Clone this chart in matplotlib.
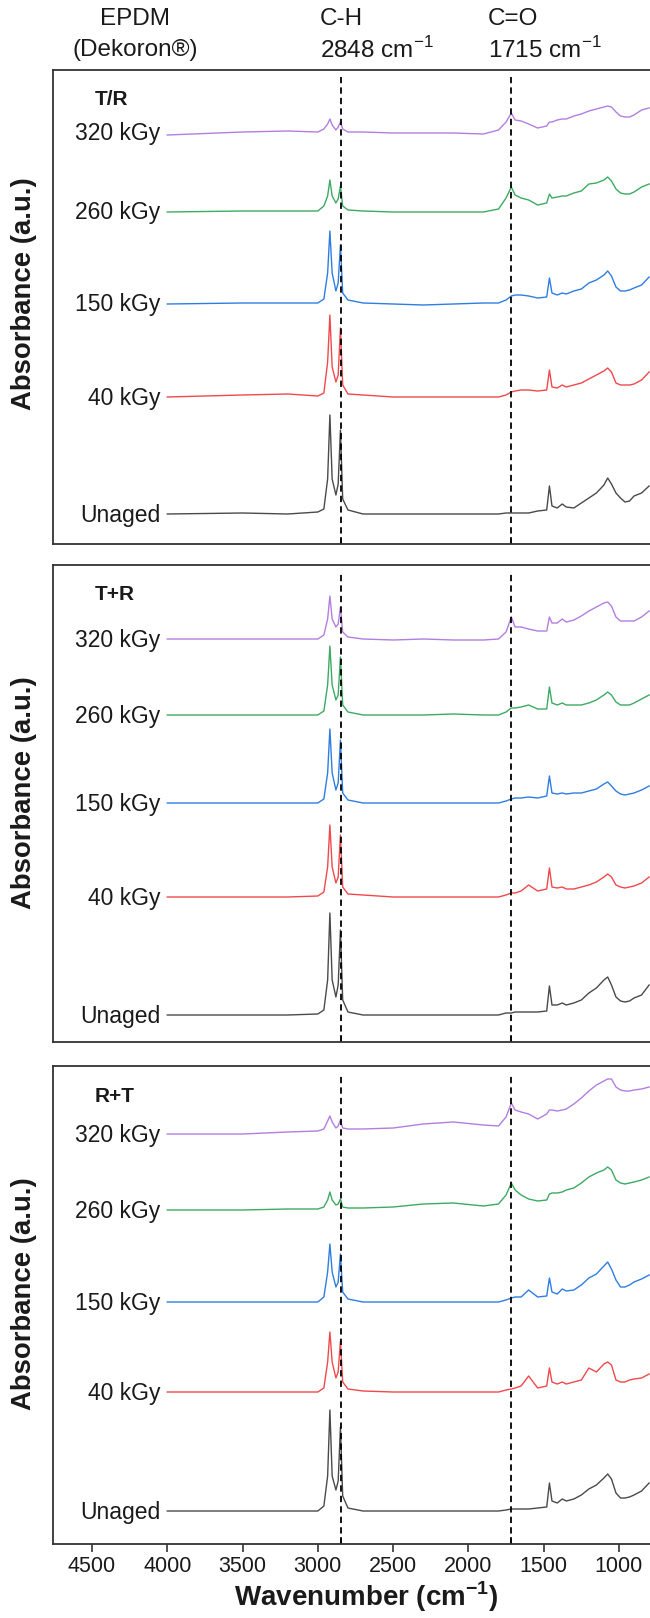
import matplotlib
matplotlib.use("Agg")
import matplotlib.pyplot as plt

plt.rcParams['font.family'] = ['Liberation Sans', 'DejaVu Sans']
plt.rcParams['mathtext.fontset'] = 'custom'
plt.rcParams['mathtext.rm'] = 'Liberation Sans'
plt.rcParams['mathtext.bf'] = 'Liberation Sans:bold'

# ---- data: wavenumber grid (cm-1) and absorbance above each curve's baseline ----
wavenumber = [4000, 3500, 3200, 3000,
              2960, 2935, 2920, 2905, 2880, 2865, 2850, 2835, 2800,
              2700, 2500, 2300, 2100, 1900, 1800,
              1750, 1715, 1690, 1650, 1600, 1540,
              1480, 1462, 1445, 1410, 1377, 1350, 1300, 1250, 1200, 1150,
              1100, 1075, 1050, 1020, 990, 960, 930, 900, 850, 800]

doses = ['Unaged', '40 kGy', '150 kGy', '260 kGy', '320 kGy']
colors = ['#4a4a4a', '#f0494c', '#2f7de1', '#3caa62', '#b37ee0']
panels = ['T/R', 'T+R', 'R+T']

# T/R
tr_0 = [0.0, 0.01, 0.0, 0.02,
        0.05, 0.35, 0.99, 0.35, 0.19, 0.30, 0.84, 0.15, 0.04,
        0.0, 0.0, 0.0, 0.0, 0.0, 0.0,
        0.01, 0.01, 0.01, 0.01, 0.01, 0.03,
        0.04, 0.28, 0.08, 0.06, 0.10, 0.07, 0.06, 0.11, 0.16, 0.21,
        0.29, 0.36, 0.30, 0.21, 0.16, 0.12, 0.13, 0.18, 0.21, 0.28]
tr_40 = [0.0, 0.02, 0.03, 0.01,
         0.04, 0.35, 0.82, 0.30, 0.15, 0.22, 0.69, 0.12, 0.03,
         0.02, 0.0, 0.0, 0.0, 0.0, 0.0,
         0.02, 0.05, 0.06, 0.07, 0.07, 0.06,
         0.07, 0.27, 0.10, 0.09, 0.12, 0.10, 0.12, 0.14, 0.18, 0.22,
         0.26, 0.29, 0.25, 0.14, 0.12, 0.12, 0.12, 0.13, 0.17, 0.25]
tr_150 = [-0.01, 0.0, 0.0, 0.0,
          0.04, 0.30, 0.72, 0.30, 0.12, 0.20, 0.58, 0.10, 0.03,
          0.0, -0.01, -0.02, -0.01, 0.0, 0.0,
          0.03, 0.07, 0.08, 0.08, 0.07, 0.05,
          0.06, 0.25, 0.10, 0.08, 0.10, 0.09, 0.12, 0.14, 0.20, 0.23,
          0.28, 0.32, 0.27, 0.16, 0.12, 0.12, 0.13, 0.15, 0.18, 0.26]
tr_260 = [-0.01, 0.0, 0.0, 0.0,
          0.05, 0.15, 0.31, 0.15, 0.08, 0.12, 0.25, 0.05, 0.01,
          0.0, -0.01, -0.01, -0.01, -0.01, 0.02,
          0.13, 0.24, 0.16, 0.13, 0.11, 0.06,
          0.08, 0.17, 0.13, 0.14, 0.15, 0.15, 0.18, 0.20, 0.27, 0.28,
          0.31, 0.34, 0.30, 0.22, 0.18, 0.17, 0.17, 0.19, 0.24, 0.27]
tr_320 = [-0.03, 0.0, 0.01, 0.0,
          0.03, 0.08, 0.13, 0.07, 0.02, 0.05, 0.10, 0.03, 0.0,
          0.0, -0.01, -0.01, -0.01, -0.02, 0.02,
          0.10, 0.19, 0.12, 0.11, 0.08, 0.04,
          0.06, 0.10, 0.10, 0.12, 0.13, 0.13, 0.16, 0.18, 0.21, 0.23,
          0.25, 0.26, 0.25, 0.20, 0.16, 0.15, 0.15, 0.17, 0.22, 0.24]

# T+R
tpr_0 = [0.0, 0.0, 0.0, 0.01,
         0.05, 0.35, 1.02, 0.35, 0.18, 0.30, 0.85, 0.15, 0.03,
         0.0, 0.0, 0.0, 0.0, 0.0, 0.0,
         0.02, 0.02, 0.03, 0.03, 0.03, 0.03,
         0.04, 0.29, 0.10, 0.10, 0.12, 0.10, 0.12, 0.15, 0.22, 0.27,
         0.35, 0.38, 0.30, 0.18, 0.14, 0.13, 0.14, 0.17, 0.20, 0.30]
tpr_40 = [0.0, 0.0, 0.0, 0.01,
          0.05, 0.30, 0.72, 0.30, 0.14, 0.20, 0.62, 0.10, 0.03,
          0.02, 0.0, 0.0, 0.0, 0.0, 0.0,
          0.02, 0.04, 0.04, 0.06, 0.12, 0.06,
          0.08, 0.29, 0.10, 0.09, 0.10, 0.08, 0.08, 0.10, 0.12, 0.15,
          0.20, 0.23, 0.20, 0.12, 0.10, 0.09, 0.10, 0.11, 0.14, 0.20]
tpr_150 = [0.0, 0.0, 0.0, 0.0,
           0.04, 0.30, 0.74, 0.30, 0.13, 0.20, 0.63, 0.10, 0.03,
           0.0, 0.0, 0.0, 0.0, 0.0, 0.0,
           0.02, 0.04, 0.05, 0.05, 0.06, 0.05,
           0.07, 0.27, 0.10, 0.09, 0.10, 0.09, 0.10, 0.10, 0.12, 0.14,
           0.19, 0.21, 0.17, 0.12, 0.09, 0.08, 0.09, 0.10, 0.13, 0.17]
tpr_260 = [0.0, 0.0, 0.0, 0.0,
           0.04, 0.30, 0.69, 0.30, 0.15, 0.20, 0.58, 0.10, 0.03,
           0.0, 0.0, 0.0, 0.01, 0.0, 0.0,
           0.03, 0.07, 0.07, 0.08, 0.10, 0.06,
           0.06, 0.28, 0.12, 0.10, 0.12, 0.10, 0.10, 0.10, 0.12, 0.15,
           0.20, 0.23, 0.20, 0.13, 0.10, 0.10, 0.10, 0.12, 0.16, 0.20]
tpr_320 = [0.0, 0.0, 0.0, 0.0,
           0.04, 0.20, 0.43, 0.20, 0.12, 0.15, 0.32, 0.07, 0.02,
           0.0, -0.01, 0.0, -0.01, -0.01, 0.0,
           0.07, 0.22, 0.12, 0.12, 0.10, 0.08,
           0.08, 0.22, 0.16, 0.16, 0.20, 0.17, 0.19, 0.23, 0.28, 0.32,
           0.36, 0.37, 0.33, 0.22, 0.18, 0.18, 0.18, 0.18, 0.22, 0.28]

# R+T
rt_0 = [0.0, 0.0, 0.0, 0.0,
        0.05, 0.35, 1.01, 0.35, 0.21, 0.30, 0.84, 0.15, 0.03,
        0.0, 0.0, 0.0, 0.0, 0.0, 0.0,
        0.01, 0.02, 0.02, 0.02, 0.02, 0.03,
        0.04, 0.28, 0.10, 0.08, 0.12, 0.10, 0.12, 0.16, 0.22, 0.26,
        0.33, 0.37, 0.32, 0.18, 0.13, 0.13, 0.14, 0.16, 0.20, 0.28]
rt_40 = [0.0, 0.0, 0.0, 0.0,
         0.04, 0.30, 0.60, 0.30, 0.14, 0.20, 0.51, 0.10, 0.03,
         0.01, 0.0, 0.0, 0.0, 0.0, 0.0,
         0.02, 0.03, 0.04, 0.06, 0.16, 0.04,
         0.06, 0.24, 0.10, 0.08, 0.10, 0.08, 0.10, 0.12, 0.24, 0.20,
         0.28, 0.30, 0.27, 0.12, 0.10, 0.10, 0.12, 0.13, 0.14, 0.18]
rt_150 = [0.0, 0.0, 0.0, 0.0,
          0.05, 0.30, 0.58, 0.30, 0.15, 0.20, 0.48, 0.10, 0.03,
          0.0, 0.0, 0.0, 0.0, 0.0, 0.0,
          0.02, 0.04, 0.05, 0.05, 0.12, 0.05,
          0.06, 0.24, 0.10, 0.08, 0.13, 0.11, 0.12, 0.17, 0.24, 0.28,
          0.36, 0.40, 0.33, 0.22, 0.15, 0.15, 0.17, 0.20, 0.23, 0.27]
rt_260 = [0.0, 0.0, 0.01, 0.01,
          0.03, 0.10, 0.18, 0.10, 0.05, 0.06, 0.11, 0.03, 0.02,
          0.02, 0.03, 0.06, 0.07, 0.04, 0.06,
          0.15, 0.27, 0.20, 0.15, 0.11, 0.09,
          0.10, 0.16, 0.17, 0.17, 0.18, 0.20, 0.22, 0.27, 0.33, 0.37,
          0.40, 0.43, 0.40, 0.30, 0.27, 0.26, 0.27, 0.28, 0.30, 0.33]
rt_320 = [0.0, 0.0, 0.02, 0.03,
          0.05, 0.13, 0.18, 0.12, 0.06, 0.08, 0.14, 0.06, 0.05,
          0.05, 0.06, 0.10, 0.12, 0.09, 0.08,
          0.17, 0.31, 0.24, 0.22, 0.20, 0.15,
          0.20, 0.24, 0.24, 0.23, 0.24, 0.25, 0.30, 0.36, 0.43, 0.49,
          0.53, 0.55, 0.55, 0.47, 0.44, 0.43, 0.43, 0.44, 0.45, 0.47]

spectra = [[tr_0, tr_40, tr_150, tr_260, tr_320],
           [tpr_0, tpr_40, tpr_150, tpr_260, tpr_320],
           [rt_0, rt_40, rt_150, rt_260, rt_320]]
offsets = [[0.30, 1.47, 2.41, 3.33, 4.12],
           [0.27, 1.45, 2.39, 3.27, 4.03],
           [0.33, 1.52, 2.42, 3.34, 4.10]]
marker_lines = [2848, 1715]
xticks = [4500, 4000, 3500, 3000, 2500, 2000, 1500, 1000]

# ---- layout (pixel boxes of the original figure) ----
W, H = 650, 1618
fig = plt.figure(figsize=(W / 100, H / 100), dpi=100)
fig.patch.set_facecolor('white')

boxes = [(70, 544), (565, 1042), (1066, 1544)]
ylab_y = [294, 793, 1294]
left_px = 53

for i, (top, bot) in enumerate(boxes):
    ax = fig.add_axes([left_px / W, 1 - bot / H, 1 - left_px / W, (bot - top) / H])
    ax.set_xlim(4759, 794)
    ax.set_ylim(0, (bot - top) / 100)
    for sp in ['left', 'top', 'bottom']:
        ax.spines[sp].set_color('#333333')
        ax.spines[sp].set_linewidth(1.3)
    ax.spines['right'].set_visible(False)
    ax.set_yticks([])

    for y, off, col, lab in zip(spectra[i], offsets[i], colors, doses):
        ax.plot(wavenumber, [v + off for v in y], color=col, lw=1.0)
        ax.annotate(lab, xy=(4048, off), xytext=(0, -6), textcoords='offset points',
                    ha='right', va='baseline', fontsize=16.5, color='#1a1a1a')

    for xv in marker_lines:
        ax.axvline(xv, ymin=0, ymax=0.985, color='black', lw=1.3,
                   linestyle=(0, (3.5, 2.3)))

    ax.text((95 - left_px) / (W - left_px), 1 - 30 / (bot - top), panels[i],
            transform=ax.transAxes, fontsize=15, fontweight='bold',
            va='center', ha='left', color='#1a1a1a')

    # bottom ticks: labelled ones only on the last panel, inward marks at the bands
    if i == 2:
        ax.set_xticks(xticks)
        ax.tick_params(axis='x', which='major', direction='out', length=5.5, width=1.2,
                       color='#333333', labelsize=15.5, pad=3.5, labelcolor='#1a1a1a')
    else:
        ax.set_xticks([])
    ax.set_xticks(marker_lines, minor=True)
    ax.tick_params(axis='x', which='minor', direction='in', length=5, width=1.2,
                   color='#333333')

    fig.text(24 / W, 1 - ylab_y[i] / H, 'Absorbance (a.u.)', rotation=90,
             fontsize=19.8, fontweight='bold', ha='center', va='center', color='#1a1a1a')

# header annotations
hdr = dict(fontsize=17.5, va='center', color='#1a1a1a')
fig.text(135 / W, 1 - 19 / H, 'EPDM', ha='center', **hdr)
fig.text(135 / W, 1 - 50 / H, '(Dekoron®)', ha='center', **hdr)
fig.text(320 / W, 1 - 19 / H, 'C-H', ha='left', **hdr)
fig.text(320 / W, 1 - 50 / H, '2848 cm$^{-1}$', ha='left', **hdr)
fig.text(488 / W, 1 - 19 / H, 'C=O', ha='left', **hdr)
fig.text(488 / W, 1 - 50 / H, '1715 cm$^{-1}$', ha='left', **hdr)

fig.text(366 / W, 1 - 1597 / H, 'Wavenumber (cm$^{\\mathbf{-1}}$)', fontsize=20,
         fontweight='bold', ha='center', va='center', color='#1a1a1a')

plt.savefig('out.png', dpi=100, facecolor='white')
plt.close()
